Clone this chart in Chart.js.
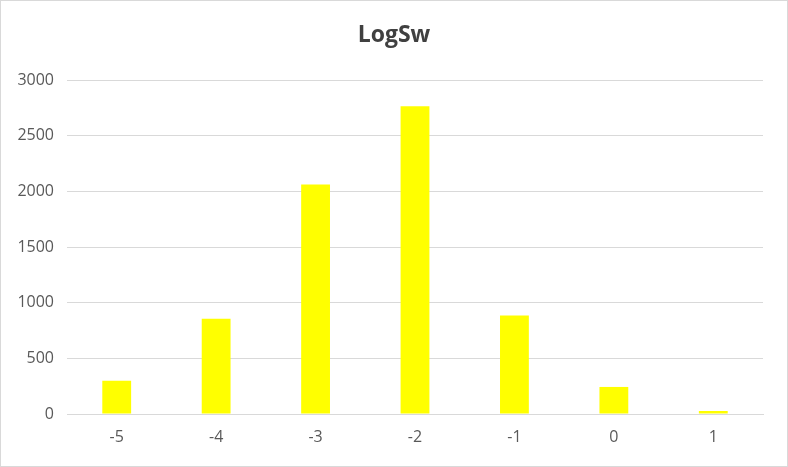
<!DOCTYPE html>
<html>
<head>
<meta charset="utf-8">
<script src="https://cdn.jsdelivr.net/npm/chart.js@4"></script>
<style>
html,body{margin:0;padding:0;background:#fff;}
#wrap{width:788px;height:467px;position:relative;}
</style>
</head>
<body>
<div id="wrap"><canvas id="c" width="788" height="467"></canvas></div>
<script>
const categories = ['-5','-4','-3','-2','-1','0','1'];
const counts = [298, 856, 2062, 2765, 884, 243, 27];
const yTicks = [0, 500, 1000, 1500, 2000, 2500, 3000];
const chartTitle = 'LogSw';

const decorPlugin = {
  id: 'decor',
  afterDraw(chart) {
    const ctx = chart.ctx;
    ctx.save();
    ctx.strokeStyle = '#d9d9d9';
    ctx.lineWidth = 1;
    ctx.strokeRect(0.5, 0.5, chart.width - 1, chart.height - 1);
    ctx.fillStyle = '#404040';
    ctx.font = 'bold 23px "Open Sans"';
    ctx.textAlign = 'center';
    ctx.textBaseline = 'middle';
    ctx.fillText(chartTitle, chart.width / 2, 35);
    ctx.restore();
  }
};

new Chart(document.getElementById('c'), {
  type: 'bar',
  data: {
    labels: categories,
    datasets: [{
      label: chartTitle,
      data: counts,
      backgroundColor: '#ffff00',
      borderWidth: 0,
      categoryPercentage: 1,
      barPercentage: 0.29
    }]
  },
  options: {
    responsive: false,
    animation: false,
    devicePixelRatio: 1,
    layout: { padding: { left: 0, right: 25, top: 80, bottom: 0 } },
    plugins: {
      legend: { display: false },
      tooltip: { enabled: false },
      title: { display: false }
    },
    scales: {
      x: {
        grid: { display: false, drawTicks: false },
        border: { display: true, color: '#d9d9d9', width: 1 },
        ticks: { color: '#595959', font: { family: 'Open Sans', size: 16 }, padding: 14 },
        afterFit(scale) { scale.height = 53; }
      },
      y: {
        min: 0,
        max: 3000,
        afterBuildTicks(scale) { scale.ticks = yTicks.map(v => ({ value: v })); },
        grid: { color: '#d9d9d9', lineWidth: 1, drawTicks: false },
        border: { display: false },
        ticks: {
          color: '#595959',
          font: { family: 'Open Sans', size: 16 },
          padding: 13,
          callback: (v) => String(v)
        },
        afterFit(scale) { scale.width = 67; }
      }
    }
  },
  plugins: [decorPlugin]
});
</script>
</body>
</html>
